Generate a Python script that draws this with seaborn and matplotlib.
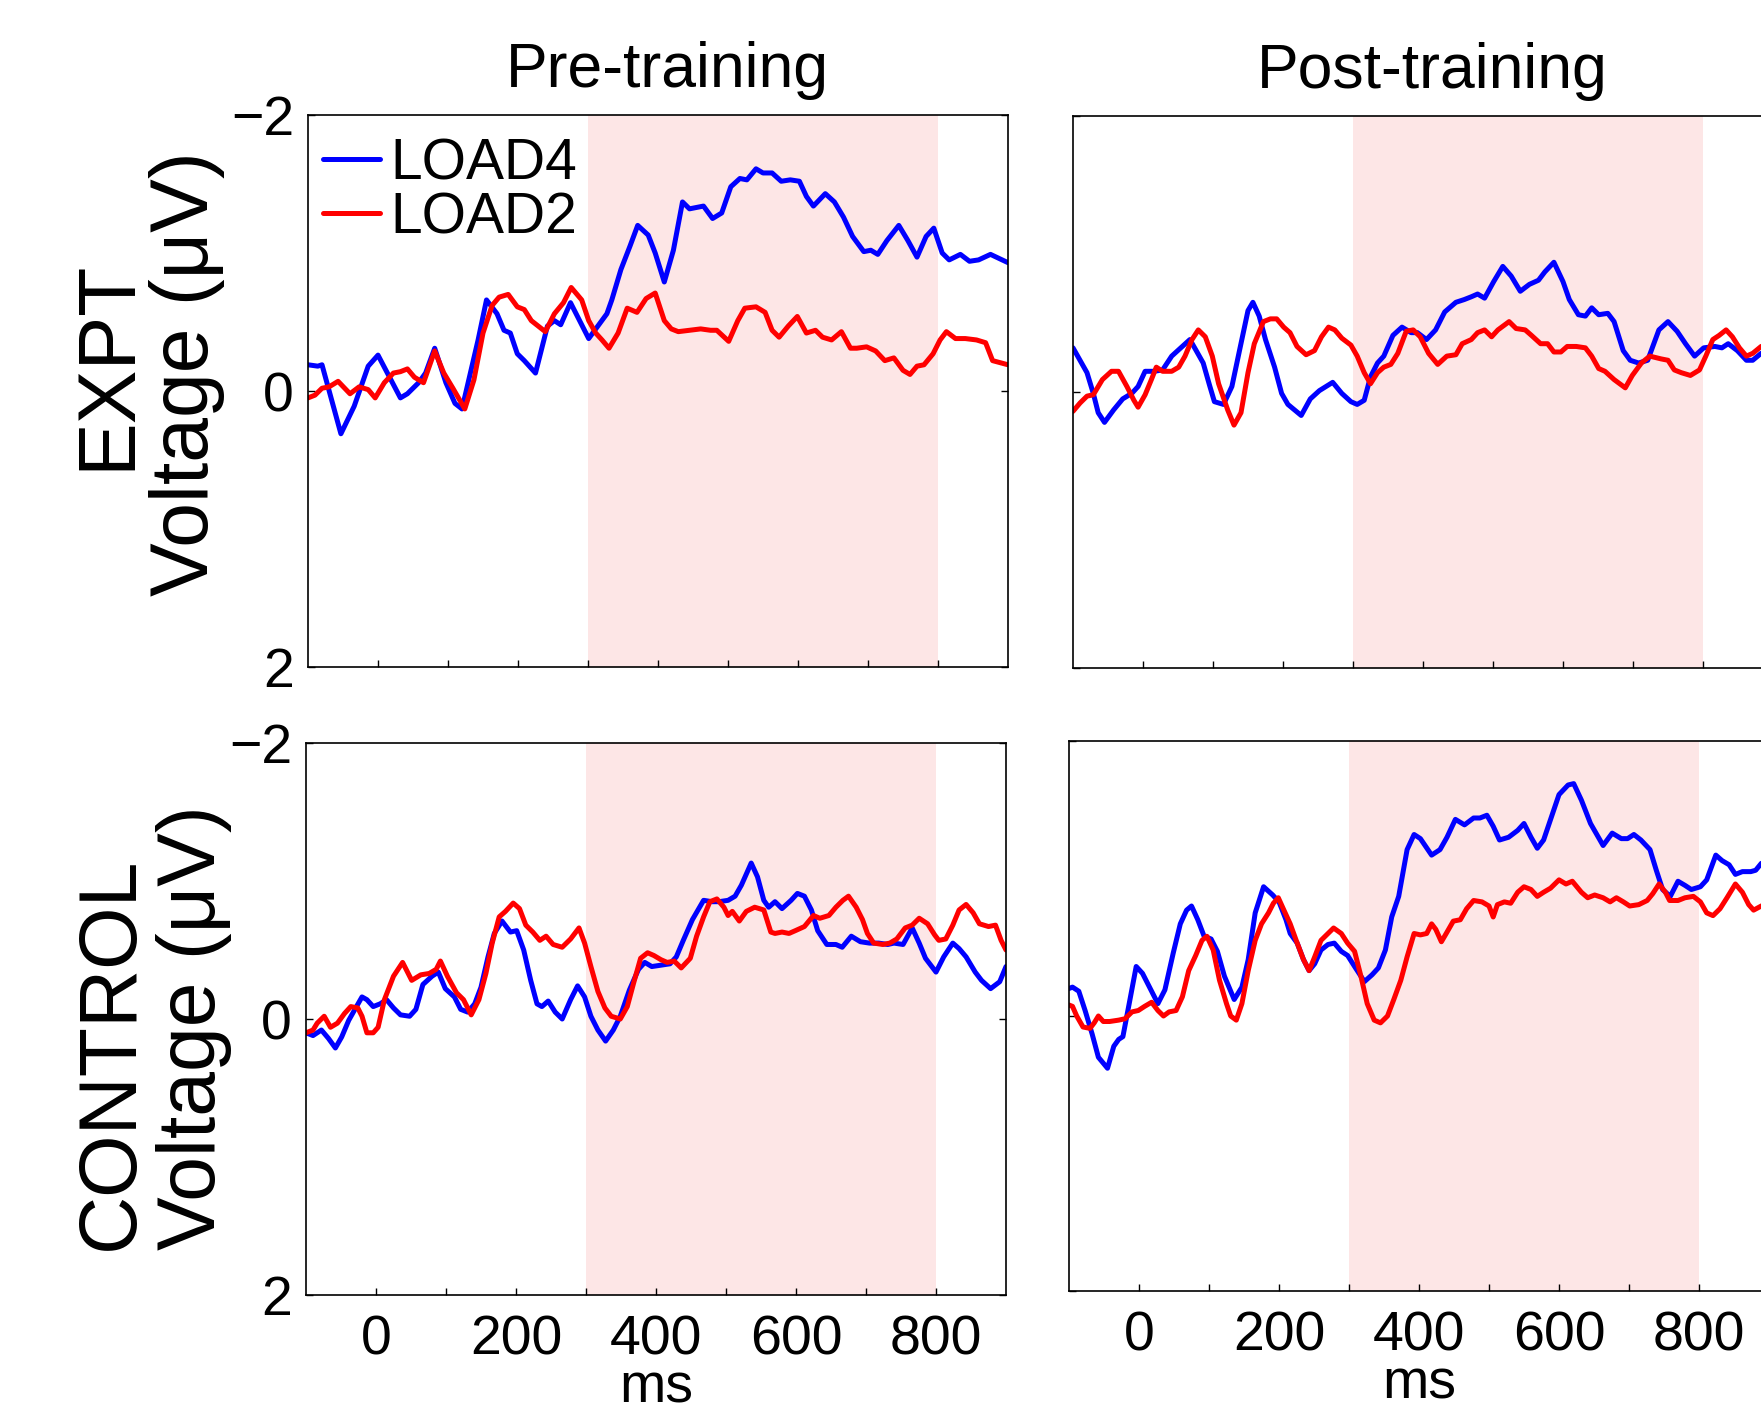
import numpy as np
import pandas as pd
import matplotlib
matplotlib.use("Agg")
import matplotlib.pyplot as plt
import seaborn as sns
from matplotlib.ticker import FixedLocator

# ---------------- data (ms, microvolts) ----------------
SESSIONS = ["Pre-training", "Post-training"]
GROUPS = ["EXPT", "CONTROL"]
LOADS = ["LOAD4", "LOAD2"]
XTICK_LABELS = [0, 200, 400, 600, 800]
YTICKS = [-2, 0, 2]
WINDOW = (300, 800)

EXPT_PRE_LOAD4 = [(-100,-0.19),(-86,-0.18),(-80,-0.19),(-53,0.31),(-34,0.11),(-14,-0.18),(0,-0.26),(32,0.05),(42,0.02),(58,-0.06),(68,-0.13),(81,-0.31),(97,-0.06),(110,0.09),(120,0.13),(143,-0.37),(155,-0.66),(170,-0.56),(180,-0.44),(189,-0.42),(199,-0.27),(209,-0.22),(225,-0.13),(242,-0.47),(252,-0.51),(261,-0.48),(275,-0.64),(288,-0.51),(301,-0.38),(314,-0.47),(327,-0.56),(334,-0.66),(347,-0.88),(360,-1.05),(371,-1.20),(386,-1.13),(396,-1.00),(409,-0.79),(422,-1.02),(435,-1.37),(445,-1.32),(465,-1.34),(478,-1.25),(491,-1.29),(504,-1.48),(517,-1.54),(527,-1.53),(540,-1.61),(550,-1.58),(563,-1.58),(576,-1.52),(589,-1.53),(602,-1.52),(612,-1.41),(622,-1.34),(639,-1.43),(652,-1.37),(665,-1.26),(678,-1.12),(694,-1.01),(704,-1.02),(714,-0.99),(727,-1.09),(744,-1.20),(757,-1.09),(770,-0.97),(783,-1.12),(794,-1.18),(806,-1.00),(816,-0.95),(832,-0.99),(845,-0.94),(858,-0.95),(875,-0.99),(900,-0.93)]

EXPT_PRE_LOAD2 = [(-100,0.05),(-90,0.03),(-80,-0.02),(-70,-0.03),(-57,-0.07),(-40,0.02),(-27,-0.03),(-14,-0.01),(-4,0.05),(9,-0.06),(22,-0.13),(32,-0.14),(42,-0.16),(52,-0.10),(65,-0.06),(81,-0.29),(94,-0.13),(107,-0.02),(124,0.13),(137,-0.08),(150,-0.42),(163,-0.62),(173,-0.68),(186,-0.70),(199,-0.61),(209,-0.59),(219,-0.51),(229,-0.47),(239,-0.43),(252,-0.56),(265,-0.64),(276,-0.75),(291,-0.66),(301,-0.51),(311,-0.42),(320,-0.37),(330,-0.31),(343,-0.42),(356,-0.60),(370,-0.57),(383,-0.67),(396,-0.71),(409,-0.51),(419,-0.45),(429,-0.43),(445,-0.44),(461,-0.45),(475,-0.44),(484,-0.44),(501,-0.36),(514,-0.51),(524,-0.60),(540,-0.61),(553,-0.57),(563,-0.44),(573,-0.39),(586,-0.47),(599,-0.54),(612,-0.42),(625,-0.44),(635,-0.39),(648,-0.37),(662,-0.43),(675,-0.31),(684,-0.31),(698,-0.32),(711,-0.29),(724,-0.22),(737,-0.24),(750,-0.15),(760,-0.12),(770,-0.18),(780,-0.19),(793,-0.27),(803,-0.37),(812,-0.43),(825,-0.38),(839,-0.38),(855,-0.37),(868,-0.35),(878,-0.22),(900,-0.19)]

EXPT_POST_LOAD4 = [(-100,-0.32),(-90,-0.23),(-80,-0.14),(-71,0.01),(-64,0.15),(-55,0.22),(-42,0.13),(-29,0.05),(-16,0.01),(-7,-0.04),(3,-0.15),(16,-0.15),(28,-0.16),(41,-0.26),(54,-0.32),(67,-0.38),(76,-0.30),(86,-0.21),(95,-0.05),(102,0.07),(115,0.09),(127,-0.04),(137,-0.28),(150,-0.59),(157,-0.65),(166,-0.55),(175,-0.38),(188,-0.18),(198,0.01),(207,0.09),(226,0.17),(239,0.05),(252,-0.01),(271,-0.07),(284,0.01),(297,0.07),(306,0.09),(316,0.06),(325,-0.11),(335,-0.21),(344,-0.26),(357,-0.41),(370,-0.47),(383,-0.43),(392,-0.43),(405,-0.38),(418,-0.45),(431,-0.58),(447,-0.65),(459,-0.67),(469,-0.69),(478,-0.71),(488,-0.68),(501,-0.80),(514,-0.91),(526,-0.84),(539,-0.73),(552,-0.78),(565,-0.81),(574,-0.87),(587,-0.94),(600,-0.80),(609,-0.67),(622,-0.56),(632,-0.55),(641,-0.61),(651,-0.56),(664,-0.57),(673,-0.51),(686,-0.30),(696,-0.23),(708,-0.21),(721,-0.23),(737,-0.45),(750,-0.51),(763,-0.44),(775,-0.35),(788,-0.26),(801,-0.32),(817,-0.33),(827,-0.32),(836,-0.35),(849,-0.30),(862,-0.23),(871,-0.23),(883,-0.28),(900,-0.30)]

EXPT_POST_LOAD2 = [(-100,0.14),(-90,0.08),(-80,0.03),(-71,0.02),(-58,-0.09),(-45,-0.15),(-35,-0.15),(-23,-0.04),(-13,0.06),(-7,0.11),(3,0.02),(12,-0.09),(19,-0.18),(28,-0.15),(41,-0.15),(51,-0.18),(60,-0.26),(70,-0.38),(79,-0.45),(89,-0.40),(99,-0.26),(108,-0.06),(121,0.13),(130,0.24),(140,0.15),(150,-0.14),(159,-0.35),(172,-0.51),(182,-0.53),(191,-0.53),(201,-0.47),(210,-0.43),(220,-0.33),(233,-0.27),(245,-0.30),(255,-0.40),(265,-0.47),(274,-0.45),(284,-0.39),(297,-0.34),(306,-0.26),(316,-0.14),(325,-0.06),(335,-0.14),(344,-0.18),(354,-0.20),(364,-0.28),(376,-0.44),(386,-0.45),(396,-0.40),(408,-0.28),(421,-0.20),(434,-0.26),(447,-0.27),(456,-0.35),(469,-0.38),(478,-0.43),(488,-0.45),(498,-0.40),(507,-0.45),(523,-0.51),(533,-0.46),(546,-0.45),(555,-0.41),(568,-0.35),(578,-0.35),(587,-0.29),(597,-0.29),(606,-0.33),(619,-0.33),(632,-0.32),(641,-0.26),(651,-0.17),(660,-0.15),(673,-0.09),(689,-0.03),(699,-0.12),(712,-0.21),(724,-0.26),(740,-0.24),(750,-0.23),(759,-0.16),(769,-0.14),(782,-0.12),(795,-0.16),(804,-0.26),(814,-0.38),(823,-0.41),(833,-0.45),(842,-0.40),(852,-0.32),(862,-0.26),(871,-0.28),(883,-0.33),(900,-0.35)]

CONTROL_PRE_LOAD4 = [(-100,0.10),(-90,0.12),(-78,0.08),(-68,0.14),(-58,0.21),(-49,0.13),(-39,0.01),(-29,-0.08),(-20,-0.16),(-13,-0.14),(-4,-0.09),(6,-0.11),(15,-0.14),(25,-0.08),(35,-0.03),(48,-0.02),(57,-0.07),(67,-0.25),(80,-0.31),(89,-0.34),(99,-0.22),(112,-0.16),(121,-0.07),(131,-0.05),(141,-0.11),(150,-0.23),(160,-0.45),(169,-0.62),(180,-0.71),(192,-0.63),(201,-0.64),(211,-0.50),(221,-0.28),(230,-0.11),(237,-0.09),(246,-0.13),(256,-0.05),(266,0.00),(278,-0.14),(288,-0.24),(298,-0.16),(307,-0.02),(317,0.08),(328,0.16),(339,0.08),(349,-0.02),(362,-0.21),(375,-0.36),(384,-0.41),(394,-0.38),(407,-0.39),(420,-0.40),(429,-0.45),(439,-0.57),(452,-0.72),(468,-0.86),(480,-0.85),(490,-0.85),(503,-0.86),(513,-0.89),(522,-0.97),(536,-1.13),(545,-1.03),(554,-0.86),(561,-0.81),(570,-0.85),(580,-0.80),(593,-0.86),(602,-0.91),(612,-0.89),(622,-0.79),(631,-0.64),(644,-0.54),(657,-0.54),(666,-0.52),(679,-0.60),(692,-0.56),(705,-0.55),(718,-0.55),(731,-0.54),(740,-0.55),(753,-0.54),(766,-0.66),(776,-0.55),(785,-0.44),(800,-0.34),(811,-0.45),(824,-0.55),(833,-0.51),(843,-0.45),(856,-0.34),(865,-0.28),(878,-0.22),(891,-0.27),(900,-0.38)]

CONTROL_PRE_LOAD2 = [(-100,0.10),(-90,0.08),(-84,0.03),(-74,-0.02),(-65,0.06),(-55,0.03),(-45,-0.04),(-36,-0.09),(-26,-0.08),(-20,-0.02),(-13,0.10),(-4,0.10),(3,0.06),(12,-0.14),(25,-0.31),(38,-0.41),(51,-0.28),(64,-0.32),(76,-0.33),(86,-0.36),(92,-0.42),(102,-0.31),(115,-0.19),(125,-0.14),(136,-0.03),(147,-0.14),(157,-0.33),(166,-0.55),(176,-0.74),(185,-0.78),(196,-0.84),(205,-0.80),(214,-0.68),(224,-0.63),(234,-0.57),(243,-0.60),(253,-0.54),(266,-0.52),(278,-0.58),(290,-0.66),(298,-0.55),(307,-0.38),(317,-0.20),(327,-0.08),(336,-0.02),(349,0.00),(359,-0.09),(368,-0.26),(378,-0.44),(388,-0.48),(397,-0.46),(407,-0.43),(416,-0.41),(426,-0.42),(436,-0.37),(449,-0.44),(458,-0.60),(468,-0.74),(477,-0.85),(487,-0.87),(497,-0.81),(503,-0.75),(509,-0.78),(519,-0.71),(529,-0.78),(541,-0.81),(554,-0.79),(564,-0.63),(570,-0.62),(580,-0.63),(590,-0.62),(599,-0.64),(612,-0.67),(625,-0.75),(634,-0.73),(647,-0.75),(657,-0.81),(667,-0.86),(675,-0.89),(686,-0.81),(695,-0.72),(702,-0.62),(711,-0.55),(724,-0.54),(734,-0.55),(744,-0.58),(756,-0.66),(766,-0.68),(776,-0.73),(788,-0.69),(798,-0.61),(804,-0.57),(814,-0.58),(824,-0.68),(833,-0.79),(843,-0.83),(853,-0.77),(862,-0.69),(875,-0.67),(885,-0.68),(893,-0.57),(900,-0.50)]

CONTROL_POST_LOAD4 = [(-100,-0.20),(-95,-0.21),(-86,-0.18),(-77,-0.04),(-67,0.13),(-58,0.30),(-45,0.38),(-36,0.22),(-29,0.17),(-23,0.15),(-14,-0.09),(-4,-0.36),(5,-0.31),(15,-0.21),(27,-0.09),(37,-0.19),(49,-0.46),(59,-0.67),(68,-0.77),(75,-0.80),(84,-0.70),(93,-0.58),(103,-0.56),(112,-0.47),(122,-0.29),(136,-0.12),(147,-0.21),(156,-0.41),(166,-0.75),(178,-0.94),(191,-0.88),(200,-0.83),(210,-0.70),(216,-0.60),(226,-0.53),(235,-0.41),(243,-0.33),(251,-0.38),(260,-0.48),(270,-0.52),(279,-0.53),(289,-0.47),(298,-0.44),(308,-0.36),(322,-0.25),(333,-0.30),(342,-0.35),(352,-0.48),(361,-0.72),(371,-0.87),(383,-1.21),(393,-1.32),(402,-1.29),(418,-1.17),(430,-1.21),(440,-1.30),(452,-1.43),(465,-1.39),(478,-1.44),(487,-1.44),(497,-1.46),(506,-1.38),(515,-1.28),(528,-1.30),(541,-1.35),(550,-1.40),(560,-1.30),(569,-1.22),(578,-1.28),(588,-1.43),(600,-1.61),(613,-1.68),(621,-1.69),(632,-1.57),(645,-1.40),(654,-1.32),(663,-1.24),(676,-1.33),(689,-1.29),(698,-1.29),(707,-1.32),(717,-1.28),(730,-1.21),(739,-1.06),(748,-0.92),(759,-0.87),(770,-0.98),(780,-0.95),(789,-0.92),(802,-0.94),(811,-0.99),(824,-1.17),(833,-1.13),(843,-1.10),(852,-1.03),(862,-1.05),(874,-1.05),(881,-1.06),(889,-1.11),(900,-1.12)]

CONTROL_POST_LOAD2 = [(-100,-0.08),(-95,-0.07),(-89,0.00),(-80,0.08),(-70,0.09),(-64,0.05),(-58,0.00),(-51,0.04),(-42,0.04),(-29,0.03),(-20,0.02),(-10,-0.03),(-1,-0.04),(8,-0.07),(18,-0.10),(27,-0.04),(35,0.00),(43,-0.03),(53,-0.04),(62,-0.14),(71,-0.33),(81,-0.44),(90,-0.55),(97,-0.58),(106,-0.48),(115,-0.26),(125,-0.09),(131,0.00),(139,0.03),(147,-0.09),(156,-0.33),(166,-0.55),(175,-0.67),(185,-0.75),(192,-0.82),(199,-0.86),(207,-0.77),(216,-0.67),(226,-0.53),(235,-0.41),(243,-0.33),(251,-0.43),(260,-0.55),(270,-0.60),(278,-0.64),(289,-0.60),(298,-0.53),(308,-0.47),(317,-0.29),(326,-0.09),(336,0.03),(345,0.05),(355,0.00),(364,-0.12),(374,-0.26),(383,-0.43),(393,-0.60),(402,-0.59),(411,-0.60),(418,-0.67),(424,-0.63),(432,-0.54),(440,-0.61),(449,-0.69),(459,-0.70),(468,-0.78),(478,-0.84),(490,-0.83),(500,-0.80),(506,-0.72),(512,-0.81),(522,-0.83),(531,-0.82),(541,-0.90),(550,-0.94),(560,-0.92),(569,-0.87),(578,-0.90),(588,-0.93),(600,-0.99),(610,-0.96),(619,-0.98),(632,-0.90),(641,-0.86),(651,-0.88),(663,-0.86),(673,-0.83),(682,-0.86),(692,-0.83),(701,-0.80),(714,-0.81),(726,-0.84),(734,-0.89),(743,-0.96),(752,-0.90),(758,-0.84),(770,-0.84),(780,-0.86),(792,-0.87),(802,-0.83),(811,-0.75),(820,-0.73),(830,-0.78),(840,-0.86),(852,-0.96),(862,-0.90),(871,-0.81),(878,-0.77),(889,-0.80),(900,-0.82)]

SERIES = {
    ("EXPT", "Pre-training"): (EXPT_PRE_LOAD4, EXPT_PRE_LOAD2),
    ("EXPT", "Post-training"): (EXPT_POST_LOAD4, EXPT_POST_LOAD2),
    ("CONTROL", "Pre-training"): (CONTROL_PRE_LOAD4, CONTROL_PRE_LOAD2),
    ("CONTROL", "Post-training"): (CONTROL_POST_LOAD4, CONTROL_POST_LOAD2),
}

# ---------------- style ----------------
sns.set_theme(style="white")
plt.rcParams["font.family"] = ["Liberation Sans", "DejaVu Sans"]
plt.rcParams["axes.unicode_minus"] = True
for key in ["text.color", "axes.labelcolor", "xtick.color", "ytick.color",
            "axes.edgecolor"]:
    plt.rcParams[key] = "black"
LINE_W = 3.6
plt.rcParams["lines.linewidth"] = LINE_W

W, H = 1761, 1413
fig = plt.figure(figsize=(W / 100, H / 100), dpi=100)

# axes rectangles in pixels: left, top, width, height
RECTS = {
    ("EXPT", "Pre-training"): (308, 115, 700, 552),
    ("EXPT", "Post-training"): (1073, 116, 700, 552),
    ("CONTROL", "Pre-training"): (306, 743, 700, 552),
    ("CONTROL", "Post-training"): (1069, 741, 700, 550),
}
PALETTE = {"LOAD4": "#0000ff", "LOAD2": "#ff0000"}
SHADE = "#fde6e6"
TICK_FS = 40

for (group, session), (l, t, w, h) in RECTS.items():
    ax = fig.add_axes([l / W, 1 - (t + h) / H, w / W, h / H])
    s4, s2 = SERIES[(group, session)]
    df = pd.concat([
        pd.DataFrame(s4, columns=["ms", "uV"]).assign(load="LOAD4"),
        pd.DataFrame(s2, columns=["ms", "uV"]).assign(load="LOAD2"),
    ], ignore_index=True)
    ax.axvspan(WINDOW[0], WINDOW[1], color=SHADE, lw=0, zorder=0)
    sns.lineplot(data=df, x="ms", y="uV", hue="load", hue_order=LOADS,
                 palette=PALETTE, estimator=None, sort=False, lw=LINE_W,
                 ax=ax, legend=False)
    for ln in ax.lines:
        ln.set_linewidth(LINE_W)
        ln.set_solid_joinstyle("round")
        ln.set_solid_capstyle("round")
    ax.set_xlim(-100, 900)
    ax.set_ylim(2, -2)
    ax.set_yticks(YTICKS)
    ax.xaxis.set_major_locator(FixedLocator(XTICK_LABELS))
    ax.xaxis.set_minor_locator(FixedLocator([100, 300, 500, 700]))
    for sp in ax.spines.values():
        sp.set_visible(True)
        sp.set_color("black")
        sp.set_linewidth(1.2)
    bottom_row = group == "CONTROL"
    left_col = session == "Pre-training"
    ax.tick_params(axis="x", which="both", direction="in", length=5, width=1,
                   color="black", labelcolor="black", bottom=True, top=False,
                   labelbottom=bottom_row, labelsize=TICK_FS, pad=14)
    ax.tick_params(axis="y", which="both", direction="in", length=5, width=1,
                   color="black", labelcolor="black", left=True, right=True,
                   labelleft=left_col, labelsize=TICK_FS, pad=10)
    ax.set_ylabel("")
    if bottom_row:
        ax.set_xlabel("ms", fontsize=TICK_FS, labelpad=-3, color="black")
    else:
        ax.set_xlabel("")
        ax.set_title(session, fontsize=45, pad=20, x=0.513, color="black")
    if group == "EXPT" and left_col:
        handles = list(ax.lines)[:2]
        leg = ax.legend(handles, LOADS, loc="upper left", bbox_to_anchor=(0.0214, 0.960),
                        frameon=False, fontsize=41, handlelength=1.0, handletextpad=0.18,
                        labelspacing=0.0, borderpad=0, borderaxespad=0)
        for txt in leg.get_texts():
            txt.set_color("black")
        for lh in leg.get_lines():
            lh.set_linewidth(LINE_W)

# row labels (two lines each)
YLAB = [("EXPT", 129, 365), ("Voltage (μV)", 208, 374),
        ("CONTROL", 133, 1053), ("Voltage (μV)", 215, 1028)]
for txt, xb, yc in YLAB:
    fig.text(xb / W, 1 - yc / H, txt, rotation=90, rotation_mode="anchor",
             ha="center", va="baseline", fontsize=58, color="black")

fig.savefig("out.png", dpi=100)
